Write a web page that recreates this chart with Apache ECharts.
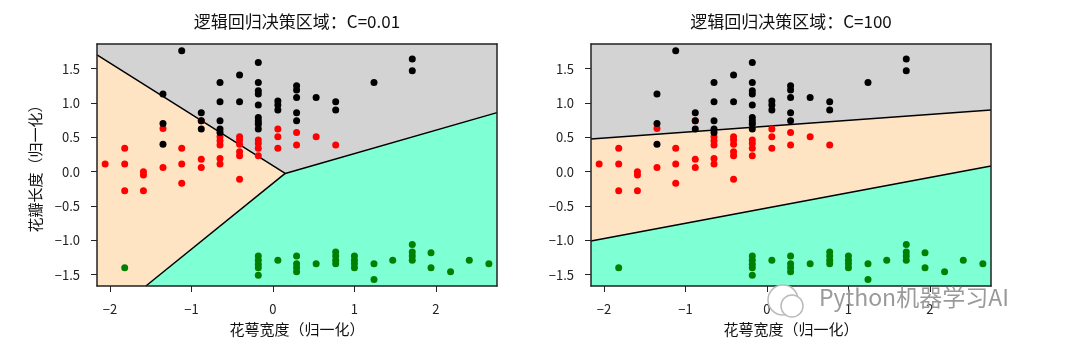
<!DOCTYPE html>
<html>
<head>
<meta charset="utf-8">
<script src="https://cdn.jsdelivr.net/npm/echarts@6/dist/echarts.min.js"></script>
<style>
html, body { margin: 0; padding: 0; background: #fff; }
#main { width: 1069px; height: 353px; }
</style>
</head>
<body>
<div id="main"></div>
<script>
// 训练样本 [花萼宽度, 花瓣长度]（归一化），两幅图共用
var setosaPts = [
    [-1.82, -1.40],
    [-0.18, -1.23], [-0.18, -1.29], [-0.18, -1.35], [-0.18, -1.40], [-0.18, -1.51],
    [0.06, -1.29],
    [0.29, -1.23], [0.29, -1.34], [0.29, -1.40], [0.29, -1.46],
    [0.53, -1.34],
    [0.77, -1.17], [0.77, -1.23], [0.77, -1.29], [0.77, -1.34],
    [1.00, -1.23], [1.00, -1.29], [1.00, -1.34], [1.00, -1.40],
    [1.24, -1.34], [1.24, -1.57],
    [1.47, -1.29],
    [1.71, -1.06], [1.71, -1.17], [1.71, -1.23], [1.71, -1.29],
    [1.94, -1.18], [1.94, -1.40],
    [2.18, -1.46],
    [2.41, -1.29],
    [2.65, -1.34]
];
var versicolorPts = [
    [-2.06, 0.11],
    [-1.82, 0.34], [-1.82, 0.11], [-1.82, -0.28],
    [-1.59, 0.00], [-1.59, -0.05], [-1.59, -0.28],
    [-1.35, 0.63], [-1.35, 0.06],
    [-1.12, 0.34], [-1.12, 0.11], [-1.12, -0.17],
    [-0.88, 0.74], [-0.88, 0.18], [-0.88, 0.06],
    [-0.65, 0.51], [-0.65, 0.45], [-0.65, 0.39], [-0.65, 0.19], [-0.65, 0.11],
    [-0.41, 0.51], [-0.41, 0.46], [-0.41, 0.40], [-0.41, 0.29], [-0.41, 0.23], [-0.41, -0.11],
    [-0.18, 0.68], [-0.18, 0.46], [-0.18, 0.41], [-0.18, 0.34], [-0.18, 0.23],
    [0.06, 0.62], [0.06, 0.51], [0.06, 0.34],
    [0.29, 0.57], [0.29, 0.39],
    [0.53, 0.51],
    [0.77, 0.39]
];
var virginicaPts = [
    [-1.35, 1.13], [-1.35, 0.70], [-1.35, 0.40],
    [-1.12, 1.76],
    [-0.88, 0.86], [-0.88, 0.74], [-0.88, 0.62],
    [-0.65, 1.30], [-0.65, 1.02], [-0.65, 0.74], [-0.65, 0.62], [-0.65, 0.57],
    [-0.41, 1.41], [-0.41, 1.02],
    [-0.18, 1.59], [-0.18, 1.30], [-0.18, 1.18], [-0.18, 1.13], [-0.18, 0.97],
    [-0.18, 0.79], [-0.18, 0.74], [-0.18, 0.70], [-0.18, 0.62],
    [0.06, 1.03], [0.06, 0.97], [0.06, 0.90],
    [0.29, 1.25], [0.29, 1.19], [0.29, 1.08], [0.29, 0.86], [0.29, 0.74],
    [0.53, 1.08],
    [0.77, 1.02], [0.77, 0.90],
    [1.24, 1.30],
    [1.71, 1.64], [1.71, 1.47]
];

var xRange = [-2.16, 2.75];
var yRange = [-1.666, 1.86];
var xTicks = [-2, -1, 0, 1, 2];
var yTicks = [-1.5, -1.0, -0.5, 0, 0.5, 1.0, 1.5];

// 决策区域（灰=virginica, 橙=versicolor, 绿=setosa）
var leftGray  = [[-2.16, 1.70], [-2.16, 1.86], [2.75, 1.86], [2.75, 0.86], [0.15, -0.026]];
var leftPeach = [[-2.16, 1.70], [0.15, -0.026], [-1.56, -1.666], [-2.16, -1.666]];
var leftAqua  = [[0.15, -0.026], [2.75, 0.86], [2.75, -1.666], [-1.56, -1.666]];
var leftLines = [
    [[-2.16, 1.70], [0.15, -0.026], [2.75, 0.86]],
    [[0.15, -0.026], [-1.56, -1.666]]
];

var rightGray  = [[-2.16, 0.477], [-2.16, 1.86], [2.75, 1.86], [2.75, 0.90]];
var rightPeach = [[-2.16, -1.01], [-2.16, 0.477], [2.75, 0.90], [2.75, 0.083]];
var rightAqua  = [[-2.16, -1.666], [-2.16, -1.01], [2.75, 0.083], [2.75, -1.666]];
var rightLines = [
    [[-2.16, 0.477], [2.75, 0.90]],
    [[-2.16, -1.01], [2.75, 0.083]]
];

var font = '"Noto Sans CJK SC", "DejaVu Sans", sans-serif';
var regionColors = ['#d3d3d3', '#ffe4c4', '#7fffd4'];

function fmtX(v) {
    return String(v).replace('-', '\u2212');
}
function fmtY(v) {
    return v.toFixed(1).replace('-', '\u2212');
}

function axisPair(idx) {
    // 底/左 带刻度，顶/右 只画边框
    var xs = [{
        type: 'value', gridIndex: idx, min: xRange[0], max: xRange[1], z: 10,
        position: 'bottom',
        name: '花萼宽度（归一化）', nameLocation: 'middle', nameGap: 36,
        nameTextStyle: { fontSize: 15, color: '#111', fontFamily: font },
        axisLine: { show: true, onZero: false, lineStyle: { color: '#222', width: 1.5 } },
        axisTick: { show: true, length: 6, customValues: xTicks, lineStyle: { color: '#222' } },
        axisLabel: { fontSize: 13, color: '#222', margin: 17, fontFamily: font,
                     customValues: xTicks, formatter: fmtX },
        splitLine: { show: false }
    }, {
        type: 'value', gridIndex: idx, min: xRange[0], max: xRange[1], z: 10,
        position: 'top',
        axisLine: { show: true, onZero: false, lineStyle: { color: '#222', width: 1.5 } },
        axisTick: { show: false }, axisLabel: { show: false }, splitLine: { show: false }
    }];
    var ys = [{
        type: 'value', gridIndex: idx, min: yRange[0], max: yRange[1], z: 10,
        position: 'left',
        axisLine: { show: true, onZero: false, lineStyle: { color: '#222', width: 1.5 } },
        axisTick: { show: true, length: 6, customValues: yTicks, lineStyle: { color: '#222' } },
        axisLabel: { fontSize: 13, color: '#222', margin: 17, fontFamily: font,
                     customValues: yTicks, formatter: fmtY },
        splitLine: { show: false }
    }, {
        type: 'value', gridIndex: idx, min: yRange[0], max: yRange[1], z: 10,
        position: 'right',
        axisLine: { show: true, onZero: false, lineStyle: { color: '#222', width: 1.5 } },
        axisTick: { show: false }, axisLabel: { show: false }, splitLine: { show: false }
    }];
    if (idx === 0) {
        ys[0].name = '花瓣长度（归一化）';
        ys[0].nameLocation = 'middle';
        ys[0].nameGap = 54;
        ys[0].nameTextStyle = { fontSize: 15, color: '#111', fontFamily: font };
    }
    return { x: xs, y: ys };
}

function regionSeries(polys, axisIdx) {
    return {
        type: 'custom', xAxisIndex: axisIdx, yAxisIndex: axisIdx, silent: true, z: 1, clip: true,
        data: polys.map(function (p, i) { return [p[0][0], p[0][1], i]; }),
        renderItem: function (params, api) {
            var i = api.value(2);
            var pts = polys[i].map(function (v) { return api.coord(v); });
            return { type: 'polygon', shape: { points: pts }, style: { fill: regionColors[i] } };
        }
    };
}

function lineSeries(lines, axisIdx) {
    return lines.map(function (l) {
        return {
            type: 'line', xAxisIndex: axisIdx, yAxisIndex: axisIdx, data: l, z: 2,
            symbol: 'none', silent: true, animation: false,
            lineStyle: { color: '#000', width: 1.5 }
        };
    });
}

function scatterSeries(axisIdx) {
    var groups = [[setosaPts, '#008000'], [versicolorPts, '#ff0000'], [virginicaPts, '#000000']];
    return groups.map(function (g) {
        return {
            type: 'scatter', xAxisIndex: axisIdx, yAxisIndex: axisIdx, data: g[0], z: 3,
            symbolSize: 7, itemStyle: { color: g[1], opacity: 1 }
        };
    });
}

var chart = echarts.init(document.getElementById('main'));

var a0 = axisPair(0), a1 = axisPair(1);

var series = [].concat(
    regionSeries([leftGray, leftPeach, leftAqua], 0),
    lineSeries(leftLines, 0),
    scatterSeries(0),
    regionSeries([rightGray, rightPeach, rightAqua], 2),
    lineSeries(rightLines, 2),
    scatterSeries(2)
);

var option = {
    backgroundColor: '#fff',
    animation: false,
    title: [
        { text: '逻辑回归决策区域：C=0.01', left: 297, top: 13, textAlign: 'center', padding: 0,
          textStyle: { fontSize: 17, fontWeight: 'normal', color: '#111', fontFamily: font } },
        { text: '逻辑回归决策区域：C=100', left: 791, top: 13, textAlign: 'center', padding: 0,
          textStyle: { fontSize: 17, fontWeight: 'normal', color: '#111', fontFamily: font } }
    ],
    grid: [
        { left: 97, top: 44, width: 400, height: 242 },
        { left: 591, top: 44, width: 400, height: 242 }
    ],
    // 轴序：0/1 左图 底/顶(x) 左/右(y)，2/3 右图
    xAxis: [a0.x[0], a0.x[1], a1.x[0], a1.x[1]],
    yAxis: [a0.y[0], a0.y[1], a1.y[0], a1.y[1]],
    series: series,
    graphic: [
        { type: 'circle', shape: { cx: 783, cy: 300, r: 15 }, z: 100,
          style: { fill: '#fff', stroke: '#bbb', lineWidth: 1.5 } },
        { type: 'circle', shape: { cx: 792, cy: 306, r: 11 }, z: 101,
          style: { fill: '#fff', stroke: '#bbb', lineWidth: 1.5 } },
        { type: 'text', left: 819, top: 286, z: 101,
          style: { text: 'Python机器学习AI', fill: '#9a9a9a', fontSize: 23, fontFamily: font } }
    ]
};
chart.setOption(option);
</script>
</body>
</html>
